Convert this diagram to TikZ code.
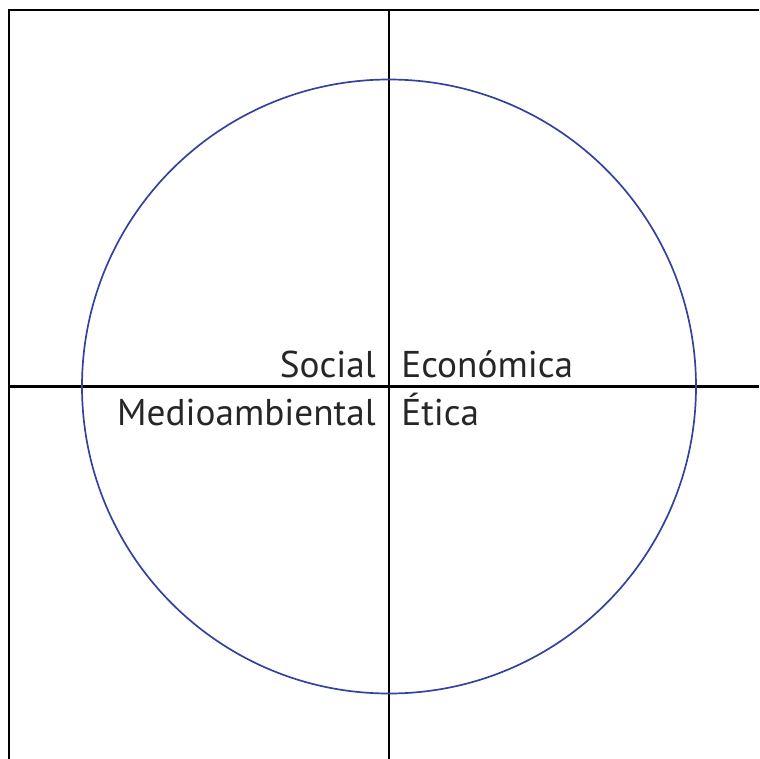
\documentclass[tikz,border=0pt]{standalone}
\usepackage{fontspec}
\setmainfont{PT Sans}
\usetikzlibrary{positioning}
\definecolor{circblue}{RGB}{52,66,158}

\begin{document}
\begin{tikzpicture}[x=0.025cm,y=-0.025cm,
                    axis/.style={line width=1.5pt,black},
                    ring/.style={line width=1.2pt,circblue},
                    label/.style={font=\fontsize{26.5}{31}\selectfont,inner sep=0pt,text=black!85}]

	\useasboundingbox (0,0) rectangle (759,759);

	% frame and axes
	\coordinate (tl) at (9,10);
	\coordinate (tr) at (759,10);
	\coordinate (bl) at (9,759);
	\coordinate (c)  at (389,386.5);
	\coordinate (n)  at (389,10);
	\coordinate (s)  at (389,759);
	\coordinate (w)  at (9,386.5);
	\coordinate (e)  at (759,386.5);

	\draw[axis] (bl) -- (tl) -- (tr);
	\draw[axis] (n) -- (s);
	\draw[axis] (w) -- (e);

	\draw[ring] (c) circle (307);

	% the four dimensions
	\node[label,anchor=base east] (social) at (376,377) {Social};
	\node[label,anchor=base west] (econ)   at (401,377) {Económica};
	\node[label,anchor=base east] (medio)  at (376,425) {Medioambiental};
	\node[label,anchor=base west] (etica)  at (401,425) {Ética};

\end{tikzpicture}
\end{document}
